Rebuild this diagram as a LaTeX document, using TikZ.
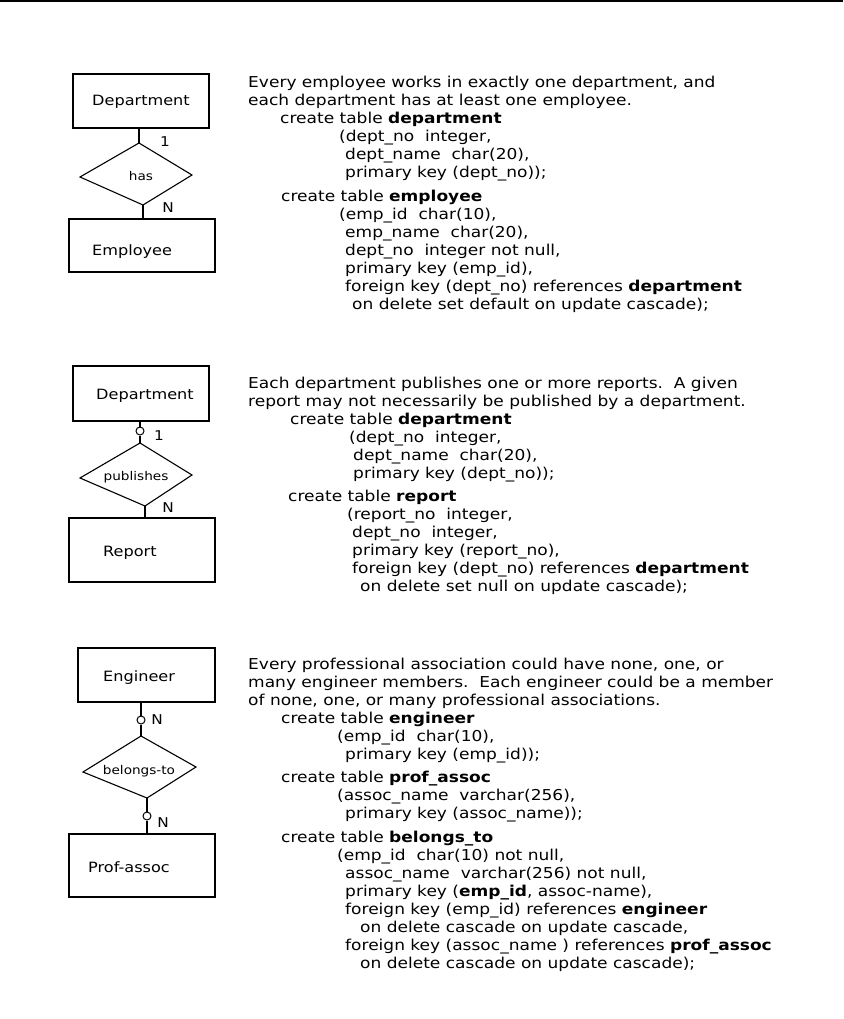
\documentclass[tikz,border=0pt]{standalone}
\usepackage{fontspec}
\setmainfont{DejaVu Sans}[FakeStretch=1.135]
\begin{document}
\begin{tikzpicture}[x=1pt,y=-1pt,
  txt/.style={anchor=base west, inner sep=0pt, font=\fontsize{15}{18}\selectfont},
  ent/.style={draw, line width=1.1pt, inner sep=0pt},
  lab/.style={anchor=base west, inner sep=0pt, font=\fontsize{14.2}{18}\selectfont},
  rel/.style={inner sep=0pt, font=\fontsize{12}{14}\selectfont},
  card/.style={inner sep=0pt, font=\fontsize{13.5}{15}\selectfont},
  conn/.style={line width=1.1pt},
  circ/.style={draw, circle, line width=1pt, fill=white, minimum size=8pt, inner sep=0pt}]
\useasboundingbox (0,0) rectangle (843,1019);
% top rule
\coordinate (rl) at (0,1.5);
\coordinate (rr) at (843,1.5);
\draw[line width=2pt] (rl) -- (rr);

% ---------- diagram 1 ----------
\node[ent, minimum width=136pt, minimum height=54pt] (dep1) at (141,101) {};
\node[lab] (dep1t) at (92,106) {Department};
\node[ent, minimum width=146pt, minimum height=53pt] (emp) at (142,245.5) {};
\node[lab] (empt) at (92,255) {Employee};
\coordinate (d1t) at (139,143);
\coordinate (d1r) at (192,175);
\coordinate (d1b) at (143,205);
\coordinate (d1l) at (80,177);
\draw[conn] (d1t) -- (d1r) -- (d1b) -- (d1l) -- cycle;
\node[rel] (has) at (141,176) {has};
\draw[conn] (dep1.south -| d1t) -- (d1t);
\draw[conn] (d1b) -- (emp.north -| d1b);
\node[card] (c1a) at (165,142) {1};
\node[card] (c1b) at (168,208) {N};

% ---------- diagram 2 ----------
\node[ent, minimum width=136pt, minimum height=55pt] (dep2) at (141,393.5) {};
\node[lab] (dep2t) at (96,399) {Department};
\node[ent, minimum width=146pt, minimum height=64pt] (rep) at (142,550) {};
\node[lab] (rept) at (103,556) {Report};
\coordinate (d2t) at (140,443);
\coordinate (d2r) at (192,475);
\coordinate (d2b) at (145,506);
\coordinate (d2l) at (80,478);
\draw[conn] (d2t) -- (d2r) -- (d2b) -- (d2l) -- cycle;
\node[rel] (pub) at (136,477) {publishes};
\node[circ] (o2) at (140,431) {};
\draw[conn] (dep2.south -| d2t) -- (o2.north);
\draw[conn] (o2.south) -- (d2t);
\draw[conn] (d2b) -- (rep.north -| d2b);
\node[card] (c2a) at (159,436) {1};
\node[card] (c2b) at (168,508) {N};

% ---------- diagram 3 ----------
\node[ent, minimum width=137pt, minimum height=54pt] (eng) at (146.5,675) {};
\node[lab] (engt) at (103,681) {Engineer};
\node[ent, minimum width=146pt, minimum height=63pt] (pa) at (142,865.5) {};
\node[lab] (pat) at (88,872) {Prof-assoc};
\coordinate (d3t) at (141,736);
\coordinate (d3r) at (196,767);
\coordinate (d3b) at (147,798);
\coordinate (d3l) at (83,772);
\draw[conn] (d3t) -- (d3r) -- (d3b) -- (d3l) -- cycle;
\node[rel] (bel) at (139,771) {belongs-to};
\node[circ] (o3a) at (141,720) {};
\node[circ] (o3b) at (147,816) {};
\draw[conn] (eng.south -| d3t) -- (o3a.north);
\draw[conn] (o3a.south) -- (d3t);
\draw[conn] (d3b) -- (o3b.north);
\draw[conn] (o3b.south) -- (pa.north -| d3b);
\node[card] (c3a) at (157,720) {N};
\node[card] (c3b) at (163,823) {N};

% ---------- text 1 ----------
\node[txt] (s1a) at (248,88) {Every employee works in exactly one department, and};
\node[txt] (s1b) at (248,106) {each department has at least one employee.};
\node[txt] (s1c) at (280,124) {create table \textbf{department}};
\node[txt] (s1d) at (339,142) {(dept\_no\ \ integer,};
\node[txt] (s1e) at (345,160) {dept\_name\ \ char(20),};
\node[txt] (s1f) at (345,178) {primary key (dept\_no));};
\node[txt] (s1g) at (281,201) {create table \textbf{employee}};
\node[txt] (s1h) at (339,219) {(emp\_id\ \ char(10),};
\node[txt] (s1i) at (345,237) {emp\_name\ \ char(20),};
\node[txt] (s1j) at (345,255) {dept\_no\ \ integer not null,};
\node[txt] (s1k) at (345,273) {primary key (emp\_id),};
\node[txt] (s1l) at (345,291) {foreign key (dept\_no) references \textbf{department}};
\node[txt] (s1m) at (352,309) {on delete set default on update cascade);};

% ---------- text 2 ----------
\node[txt] (s2a) at (248,388) {Each department publishes one or more reports.\ \ A given};
\node[txt] (s2b) at (248,406) {report may not necessarily be published by a department.};
\node[txt] (s2c) at (290,424) {create table \textbf{department}};
\node[txt] (s2d) at (349,442) {(dept\_no\ \ integer,};
\node[txt] (s2e) at (353,460) {dept\_name\ \ char(20),};
\node[txt] (s2f) at (353,478) {primary key (dept\_no));};
\node[txt] (s2g) at (288,501) {create table \textbf{report}};
\node[txt] (s2h) at (347,519) {(report\_no\ \ integer,};
\node[txt] (s2i) at (352,537) {dept\_no\ \ integer,};
\node[txt] (s2j) at (352,555) {primary key (report\_no),};
\node[txt] (s2k) at (352,573) {foreign key (dept\_no) references \textbf{department}};
\node[txt] (s2l) at (360,591) {on delete set null on update cascade);};

% ---------- text 3 ----------
\node[txt] (s3a) at (248,669) {Every professional association could have none, one, or};
\node[txt] (s3b) at (248,687) {many engineer members.\ \ Each engineer could be a member};
\node[txt] (s3c) at (248,705) {of none, one, or many professional associations.};
\node[txt] (s3d) at (281,723) {create table \textbf{engineer}};
\node[txt] (s3e) at (337,741) {(emp\_id\ \ char(10),};
\node[txt] (s3f) at (345,759) {primary key (emp\_id));};
\node[txt] (s3g) at (281,782) {create table \textbf{prof\_assoc}};
\node[txt] (s3h) at (337,800) {(assoc\_name\ \ varchar(256),};
\node[txt] (s3i) at (345,818) {primary key (assoc\_name));};
\node[txt] (s3j) at (281,842) {create table \textbf{belongs\_to}};
\node[txt] (s3k) at (337,860) {(emp\_id\ \ char(10) not null,};
\node[txt] (s3l) at (345,878) {assoc\_name\ \ varchar(256) not null,};
\node[txt] (s3m) at (345,896) {primary key (\textbf{emp\_id}, assoc-name),};
\node[txt] (s3n) at (345,914) {foreign key (emp\_id) references \textbf{engineer}};
\node[txt] (s3o) at (360,932) {on delete cascade on update cascade,};
\node[txt] (s3p) at (345,950) {foreign key (assoc\_name ) references \textbf{prof\_assoc}};
\node[txt] (s3q) at (360,968) {on delete cascade on update cascade);};
\end{tikzpicture}
\end{document}
